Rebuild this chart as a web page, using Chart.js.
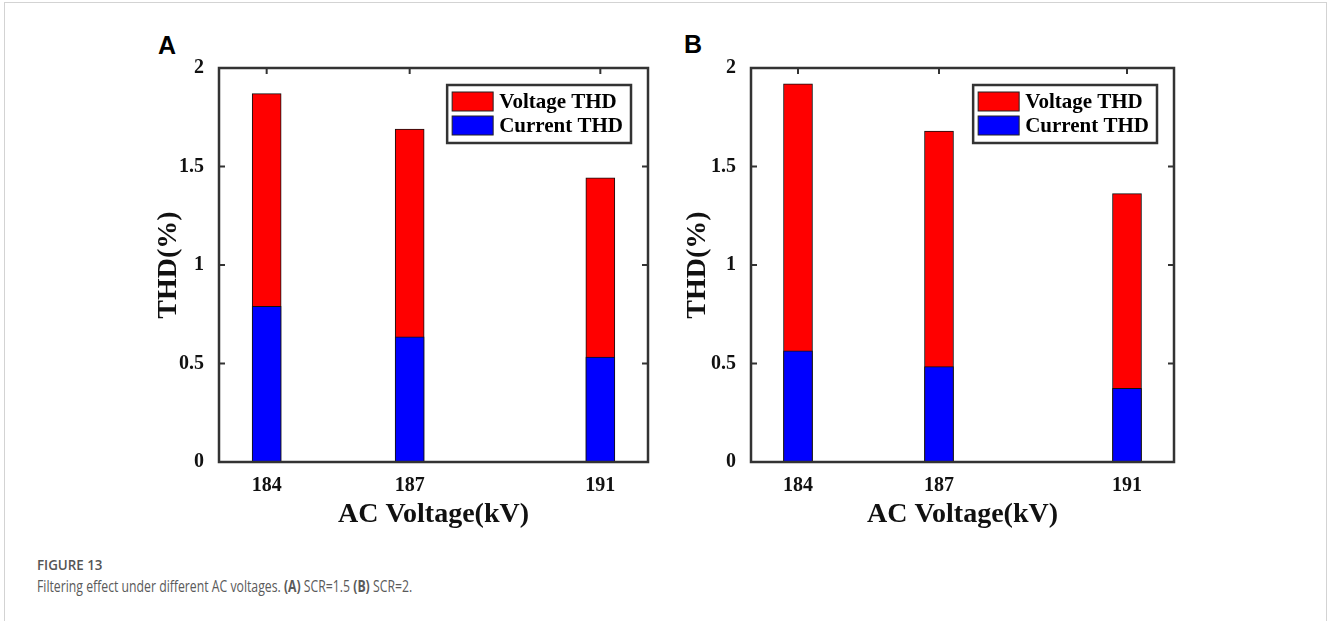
<!DOCTYPE html>
<html>
<head>
<meta charset="utf-8">
<script src="https://cdn.jsdelivr.net/npm/chart.js@4"></script>
<style>
  body { margin: 0; background: #fff; width: 1328px; height: 621px; overflow: hidden; position: relative; }
  #frame { position: absolute; left: 4px; top: 2px; width: 1321px; height: 700px; border: 1px solid #d3d3d3; }
  .panel { position: absolute; }
  .letter { position: absolute; font: bold 25px "Liberation Sans", Arial, sans-serif; line-height: 25px; color: #000; }
  #cap1 { position: absolute; left: 37px; top: 555px; font: 600 14.5px "Open Sans", sans-serif; color: #555; transform: scaleX(0.92); transform-origin: left top; }
  #cap2 { position: absolute; left: 37px; top: 575px; font: 15.5px "Open Sans", sans-serif; color: #5a5a5a; white-space: nowrap; transform: scaleX(0.79); transform-origin: left top; }
  #cap2 b { font-weight: 700; }
</style>
</head>
<body>
<div id="frame"></div>
<div class="letter" style="left:158px; top:33px;">A</div>
<div class="letter" style="left:684px; top:32px;">B</div>
<div class="panel" style="left:140px; top:30px;"><canvas id="chartA" width="540" height="500"></canvas></div>
<div class="panel" style="left:680px; top:30px;"><canvas id="chartB" width="540" height="500"></canvas></div>
<div id="cap1">FIGURE 13</div>
<div id="cap2">Filtering effect under different AC voltages. <b>(A)</b> SCR=1.5 <b>(B)</b> SCR=2.</div>
<script>
// data
const acVoltage = [184, 187, 191];
const xTicks = [184, 187, 191];
const yTicks = [0, 0.5, 1, 1.5, 2];

const voltageTHD_A = [1.87, 1.69, 1.443];
const currentTHD_A = [0.79, 0.635, 0.533];

const voltageTHD_B = [1.92, 1.68, 1.362];
const currentTHD_B = [0.564, 0.484, 0.374];

const serif = '"Liberation Serif", "Times New Roman", serif';
const axisColor = '#333';

function points(ys) {
  return acVoltage.map((x, i) => ({ x: x, y: ys[i] }));
}

// inward ticks on all four sides, drawn under the bars like matlab
const ticksPlugin = {
  id: 'inTicks',
  beforeDatasetsDraw(chart) {
    const { ctx, chartArea: a, scales } = chart;
    ctx.save();
    ctx.strokeStyle = axisColor;
    ctx.lineWidth = 2;
    for (const v of xTicks) {
      const px = scales.x.getPixelForValue(v);
      ctx.beginPath();
      ctx.moveTo(px, a.top); ctx.lineTo(px, a.top + 6);
      ctx.moveTo(px, a.bottom); ctx.lineTo(px, a.bottom - 6);
      ctx.stroke();
    }
    for (const v of yTicks) {
      const py = scales.y.getPixelForValue(v);
      ctx.beginPath();
      ctx.moveTo(a.left, py); ctx.lineTo(a.left + 6, py);
      ctx.moveTo(a.right, py); ctx.lineTo(a.right - 6, py);
      ctx.stroke();
    }
    ctx.restore();
  },
  afterDraw(chart) {
    const { ctx, chartArea: a } = chart;
    ctx.save();
    ctx.strokeStyle = axisColor;
    ctx.lineWidth = 2.5;
    ctx.strokeRect(a.left, a.top, a.right - a.left, a.bottom - a.top);
    ctx.restore();
  }
};

// boxed legend in the upper right corner
const boxLegend = {
  id: 'boxLegend',
  afterDraw(chart) {
    const { ctx, chartArea: a } = chart;
    const items = chart.data.datasets.slice().reverse();
    ctx.save();
    ctx.font = 'bold 21px ' + serif;
    let tw = 0;
    items.forEach(d => { tw = Math.max(tw, ctx.measureText(d.label).width); });
    const sw = 41, sh = 19, rowH = 24;
    const w = 5 + sw + 6 + tw + 8;
    const h = 7 + rowH * 2 + 3;
    const x0 = a.right - 17 - w;
    const y0 = a.top + 17;
    ctx.fillStyle = '#fff';
    ctx.fillRect(x0, y0, w, h);
    ctx.strokeStyle = axisColor;
    ctx.lineWidth = 2.5;
    ctx.strokeRect(x0, y0, w, h);
    items.forEach((d, i) => {
      const sy = y0 + 7 + i * rowH;
      ctx.fillStyle = d.backgroundColor;
      ctx.fillRect(x0 + 5, sy, sw, sh);
      ctx.strokeStyle = '#222';
      ctx.lineWidth = 1;
      ctx.strokeRect(x0 + 5, sy, sw, sh);
      ctx.fillStyle = '#000';
      ctx.textBaseline = 'middle';
      ctx.fillText(d.label, x0 + 5 + sw + 6, sy + sh / 2 + 1);
    });
    ctx.restore();
  }
};

function makeChart(id, vData, cData, yW, padRight, yTitlePad) {
  new Chart(document.getElementById(id), {
    type: 'bar',
    data: {
      datasets: [
        { label: 'Current THD', data: points(cData), backgroundColor: '#0000ff', borderColor: '#111', borderWidth: 1, grouped: false, barThickness: 29 },
        { label: 'Voltage THD', data: points(vData), backgroundColor: '#ff0000', borderColor: '#111', borderWidth: 1, grouped: false, barThickness: 29 }
      ]
    },
    options: {
      responsive: false,
      animation: false,
      layout: { padding: { left: 0, top: 38, right: padRight, bottom: 0 } },
      plugins: { legend: { display: false }, tooltip: { enabled: false } },
      scales: {
        x: {
          type: 'linear',
          offset: false,
          min: 183,
          max: 192,
          afterBuildTicks: s => { s.ticks = xTicks.map(v => ({ value: v })); },
          afterFit: s => { s.height = 68; },
          grid: { display: false, offset: false },
          border: { display: false },
          ticks: { color: '#111', font: { family: serif, size: 20, weight: 'bold' }, padding: 4, maxRotation: 0 },
          title: { display: true, text: 'AC Voltage(kV)', color: '#111', font: { family: serif, size: 28, weight: 'bold', lineHeight: 1.1 }, padding: { top: 0, bottom: 0 } }
        },
        y: {
          min: 0,
          max: 2,
          afterBuildTicks: s => { s.ticks = yTicks.map(v => ({ value: v })); },
          afterFit: s => { s.width = yW; },
          grid: { display: false },
          border: { display: false },
          ticks: { color: '#111', font: { family: serif, size: 20, weight: 'bold' }, padding: 7, callback: v => String(v) },
          title: { display: true, text: 'THD(%)', color: '#111', font: { family: serif, size: 28, weight: 'bold', lineHeight: 1.1 }, padding: { top: yTitlePad, bottom: 0 } }
        }
      }
    },
    plugins: [ticksPlugin, boxLegend]
  });
}

makeChart('chartA', voltageTHD_A, currentTHD_A, 79, 32, 13);
makeChart('chartB', voltageTHD_B, currentTHD_B, 71, 46, 2);
</script>
</body>
</html>
